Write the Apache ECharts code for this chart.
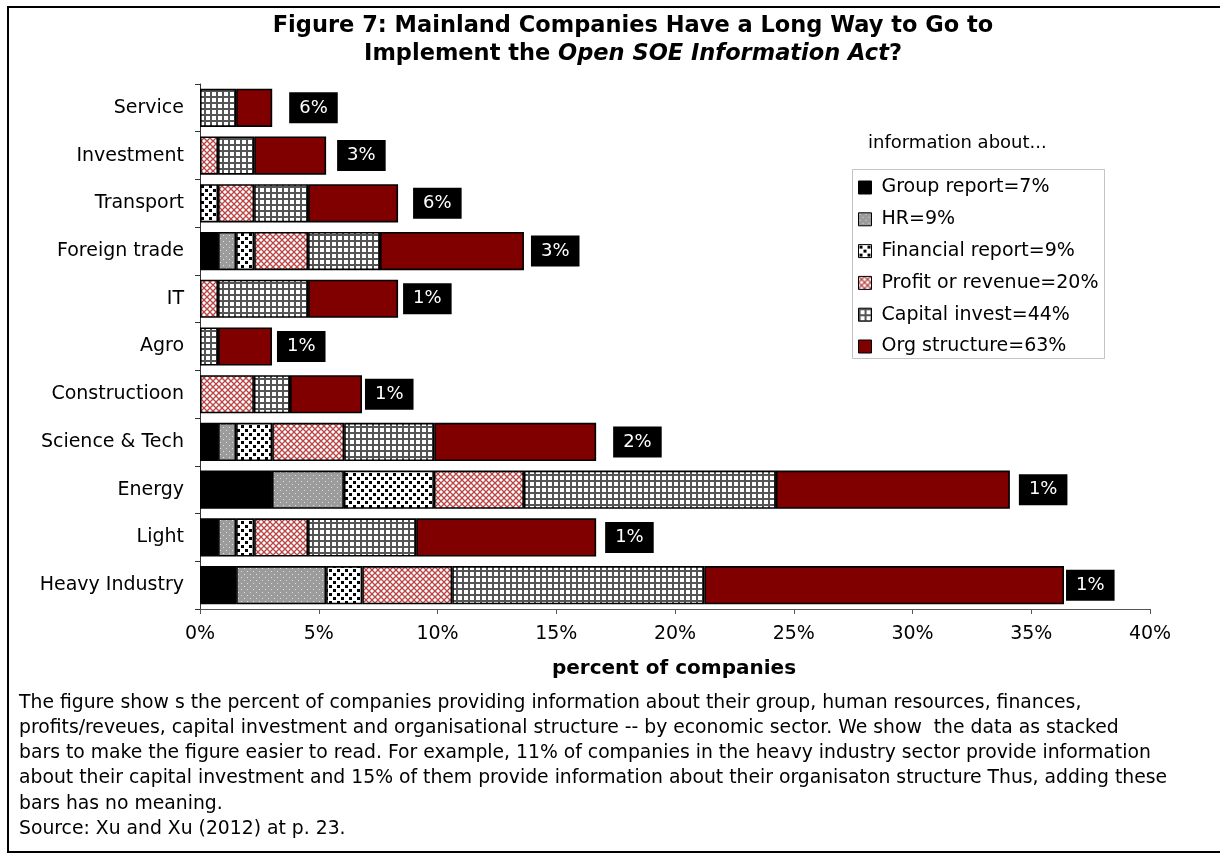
<!DOCTYPE html>
<html>
<head>
<meta charset="utf-8">
<script src="https://cdn.jsdelivr.net/npm/echarts@6/dist/echarts.min.js"></script>
<style>
html,body{margin:0;padding:0;background:#fff;}
#c{width:1220px;height:855px;}
</style>
</head>
<body>
<div id="c"></div>
<script>
// ---------- DATA ----------
const categories = ['Heavy Industry','Light','Energy','Science & Tech','Constructioon','Agro','IT','Foreign trade','Transport','Investment','Service'];
const groupReport = [1.52, 0.76, 3.03, 0.76, 0, 0, 0, 0.76, 0, 0, 0];
const hrInfo      = [3.79, 0.76, 3.03, 0.76, 0, 0, 0, 0.76, 0, 0, 0];
const financial   = [1.52, 0.76, 3.79, 1.52, 0, 0, 0, 0.76, 0.76, 0, 0];
const profit      = [3.79, 2.27, 3.79, 3.03, 2.27, 0, 0.76, 2.27, 1.52, 0.76, 0];
const capital     = [10.61, 4.55, 10.61, 3.79, 1.52, 0.76, 3.79, 3.03, 2.27, 1.52, 1.52];
const orgStruct   = [15.15, 7.58, 9.85, 6.82, 3.03, 2.27, 3.79, 6.06, 3.79, 3.03, 1.52];
const endLabels   = ['1%','1%','1%','2%','1%','1%','1%','3%','6%','3%','6%'];
const seriesNames = ['Group report=7%','HR=9%','Financial report=9%','Profit or revenue=20%','Capital invest=44%','Org structure=63%'];
const xTicks = [0,5,10,15,20,25,30,35,40];
const footerLines = [
  'The figure show s the percent of companies providing information about their group, human resources, finances,',
  'profits/reveues, capital investment and organisational structure -- by economic sector. We show  the data as stacked',
  'bars to make the figure easier to read. For example, 11% of companies in the heavy industry sector provide information',
  'about their capital investment and 15% of them provide information about their organisaton structure Thus, adding these',
  'bars has no meaning.',
  'Source: Xu and Xu (2012) at p. 23.'
];

// ---------- STYLE / LAYOUT ----------
const FONT = 'DejaVu Sans';
const labelGaps = [2, 9, 9, 17, 3, 5, 5, 7, 15, 11, 17];

function makePattern(size, draw) {
  const c = document.createElement('canvas');
  c.width = size; c.height = size;
  const ctx = c.getContext('2d');
  draw(ctx, size);
  return { image: c, repeat: 'repeat' };
}
const patHR = makePattern(6, (g, s) => {
  g.fillStyle = '#9c9c9c'; g.fillRect(0, 0, s, s);
  g.fillStyle = '#dedede'; g.fillRect(1, 1, 1, 1); g.fillRect(4, 4, 1, 1);
});
const patFin = makePattern(8, (g, s) => {
  g.fillStyle = '#fff'; g.fillRect(0, 0, s, s);
  g.fillStyle = '#000'; g.fillRect(1, 1, 3, 3); g.fillRect(5, 5, 3, 3);
});
const patProfit = makePattern(6, (g, s) => {
  g.fillStyle = '#fff'; g.fillRect(0, 0, s, s);
  g.strokeStyle = '#b84444'; g.lineWidth = 1.3;
  g.beginPath(); g.moveTo(0, 0); g.lineTo(s, s); g.moveTo(s, 0); g.lineTo(0, s); g.stroke();
});
const patCap = makePattern(6, (g, s) => {
  g.fillStyle = '#fff'; g.fillRect(0, 0, s, s);
  g.fillStyle = '#555'; g.fillRect(0, 0, s, 2); g.fillRect(0, 0, 2, s);
});
const fills = ['#000000', patHR, patFin, patProfit, patCap, '#800000'];
const values = [groupReport, hrInfo, financial, profit, capital, orgStruct];

const series = values.map((arr, si) => {
  const s = {
    name: seriesNames[si],
    type: 'bar',
    stack: 'total',
    barCategoryGap: '20%',
    itemStyle: { color: fills[si], borderColor: '#000', borderWidth: 1.6 },
    emphasis: { disabled: true },
    data: arr.map(v => v === 0 ? '-' : v)
  };
  if (si === values.length - 1) {
    s.data = arr.map((v, i) => ({ value: v, label: { distance: labelGaps[i] } }));
    s.label = {
      show: true, position: 'right',
      formatter: p => endLabels[p.dataIndex],
      backgroundColor: '#000', color: '#fff',
      fontFamily: FONT, fontSize: 18, lineHeight: 20,
      padding: [2, 10, 9, 10]
    };
  }
  return s;
});

const chart = echarts.init(document.getElementById('c'), null, { renderer: 'canvas' });
chart.setOption({
  animation: false,
  backgroundColor: '#fff',
  textStyle: { fontFamily: FONT },
  grid: { left: 200, right: 70, top: 84, bottom: 246, containLabel: false },
  xAxis: {
    type: 'value', min: xTicks[0], max: xTicks[xTicks.length - 1], interval: 5,
    axisLine: { show: true, lineStyle: { color: '#555', width: 1 } },
    axisTick: { show: true, length: 5, lineStyle: { color: '#555' } },
    splitLine: { show: false },
    axisLabel: { formatter: '{value}%', fontFamily: FONT, fontSize: 19, color: '#000', margin: 16 }
  },
  yAxis: {
    type: 'category', data: categories,
    axisLine: { show: true, lineStyle: { color: '#333', width: 1 } },
    axisTick: { show: true, length: 5, lineStyle: { color: '#333' } },
    axisLabel: { fontFamily: FONT, fontSize: 19, color: '#000', margin: 16 }
  },
  legend: {
    orient: 'vertical', left: 858, top: 178, padding: 0,
    itemWidth: 13, itemHeight: 13, itemGap: 12.8,
    icon: 'rect',
    selectedMode: false,
    itemStyle: { borderColor: '#000', borderWidth: 1 },
    textStyle: { fontFamily: FONT, fontSize: 19, color: '#000', lineHeight: 18, padding: [0, 0, 0, 5] },
    data: seriesNames
  },
  graphic: [
    { type: 'rect', silent: true, z: -1, shape: { x: 8, y: 7, width: 1240, height: 845 },
      style: { fill: null, stroke: '#000', lineWidth: 2 } },
    { type: 'rect', silent: true, shape: { x: 852.5, y: 169.5, width: 252, height: 189 },
      style: { fill: null, stroke: '#c4c4c4', lineWidth: 1 } },
    { type: 'text', x: 633, y: 40, silent: true,
      style: {
        text: '{a|Figure 7: Mainland Companies Have a Long Way to Go to}\n{a|Implement the }{b|Open SOE Information Act}{a|?}',
        align: 'center', verticalAlign: 'middle',
        rich: {
          a: { fontFamily: FONT, fontSize: 22.5, fontWeight: 'bold', lineHeight: 28, fill: '#000' },
          b: { fontFamily: FONT, fontSize: 22.5, fontWeight: 'bold', fontStyle: 'italic', lineHeight: 28, fill: '#000' }
        }
      } },
    { type: 'text', x: 868, y: 143, silent: true,
      style: { text: 'information about...', font: '18px "DejaVu Sans"', fill: '#000', verticalAlign: 'middle' } },
    { type: 'text', x: 674, y: 669, silent: true,
      style: { text: 'percent of companies', font: 'bold 20px "DejaVu Sans"', fill: '#000', align: 'center', verticalAlign: 'middle' } }
  ].concat(footerLines.map((t, i) => ({
    type: 'text', x: 19, y: 703 + i * 25.2, silent: true,
    style: { text: t, font: '18.8px "DejaVu Sans"', fill: '#000', verticalAlign: 'middle' }
  }))),
  series: series
});
</script>
</body>
</html>
